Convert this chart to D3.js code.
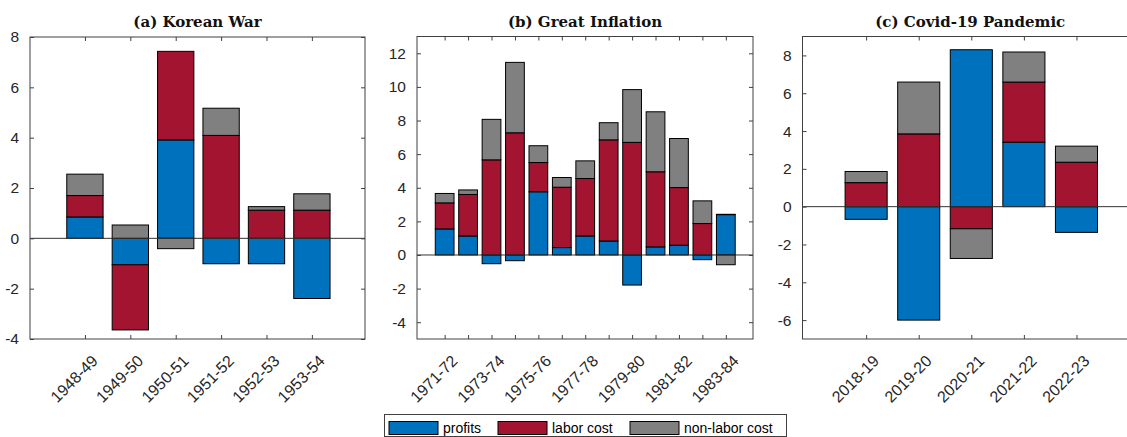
<!DOCTYPE html>
<html>
<head>
<meta charset="utf-8">
<script src="https://cdn.jsdelivr.net/npm/d3@7"></script>
<style>
  html, body { margin: 0; padding: 0; background: #fff; }
  svg { display: block; }
</style>
</head>
<body>
<svg id="chart" width="1127" height="437"></svg>
<script>
// ---------- data ----------
const seriesKeys = ["profits", "labor cost", "non-labor cost"];
const seriesColors = ["#0072BD", "#A2142F", "#808080"];

const categoriesA = ["1948-49", "1949-50", "1950-51", "1951-52", "1952-53", "1953-54"];
const profitsA   = [0.85, -1.05, 3.91, -1.01, -1.01, -2.39];
const laborA     = [0.85, -2.59, 3.52, 4.09, 1.12, 1.12];
const nonlaborA  = [0.85, 0.53, -0.41, 1.08, 0.14, 0.65];
const yTicksA    = [-4, -2, 0, 2, 4, 6, 8];

const categoriesB = ["1971-72", "1972-73", "1973-74", "1974-75", "1975-76", "1976-77", "1977-78",
                     "1978-79", "1979-80", "1980-81", "1981-82", "1982-83", "1983-84"];
const profitsB   = [1.55, 1.13, -0.52, -0.34, 3.76, 0.44, 1.13, 0.83, -1.79, 0.48, 0.58, -0.28, 2.40];
const laborB     = [1.55, 2.47, 5.66, 7.27, 1.74, 3.59, 3.42, 6.02, 6.70, 4.47, 3.43, 1.87, 0.02];
const nonlaborB  = [0.56, 0.27, 2.41, 4.19, 1.00, 0.58, 1.05, 1.02, 3.14, 3.57, 2.92, 1.35, -0.58];
const yTicksB    = [-4, -2, 0, 2, 4, 6, 8, 10, 12];
const xLabelsB   = ["1971-72", "1973-74", "1975-76", "1977-78", "1979-80", "1981-82", "1983-84"];

const categoriesC = ["2018-19", "2019-20", "2020-21", "2021-22", "2022-23"];
const profitsC   = [-0.67, -6.00, 8.30, 3.41, -1.36];
const laborC     = [1.27, 3.85, -1.17, 3.18, 2.35];
const nonlaborC  = [0.59, 2.74, -1.57, 1.59, 0.85];
const yTicksC    = [-6, -4, -2, 0, 2, 4, 6, 8];

const titles = ["(a) Korean War", "(b) Great Inflation", "(c) Covid-19 Pandemic"];

// ---------- layout ----------
const panels = [
  { title: titles[0], cats: categoriesA, vals: [profitsA, laborA, nonlaborA], yTicks: yTicksA, xLabels: categoriesA,
    left: 30, right: 365, top: 37, bottom: 339, xDom: [-0.21, categoriesA.length + 1.17], yDom: [-4, 8] },
  { title: titles[1], cats: categoriesB, vals: [profitsB, laborB, nonlaborB], yTicks: yTicksB, xLabels: xLabelsB,
    left: 417, right: 753, top: 36.5, bottom: 339, xDom: [-0.18, categoriesB.length + 1.16], yDom: [-5, 13] },
  { title: titles[2], cats: categoriesC, vals: [profitsC, laborC, nonlaborC], yTicks: yTicksC, xLabels: categoriesC,
    left: 802.5, right: 1138, top: 36.5, bottom: 339, xDom: [-0.21, categoriesC.length + 1.17], yDom: [-7, 9] }
];

const svg = d3.select("#chart");
const axisColor = "#404040";
const textColor = "#262626";
const tickFont = "Liberation Sans, Arial, Helvetica, sans-serif";

panels.forEach(p => {
  const x = d3.scaleLinear().domain(p.xDom).range([p.left, p.right]);
  const y = d3.scaleLinear().domain(p.yDom).range([p.bottom, p.top]);
  const g = svg.append("g");

  const table = p.cats.map((c, i) => {
    const row = { cat: c, pos: i + 1 };
    seriesKeys.forEach((k, j) => row[k] = p.vals[j][i]);
    return row;
  });
  const stacked = d3.stack().keys(seriesKeys).offset(d3.stackOffsetDiverging)(table);
  const barW = 0.8;

  // bars
  stacked.forEach((layer, j) => {
    g.append("g").selectAll("rect").data(layer).join("rect")
      .attr("x", d => x(d.data.pos - barW / 2))
      .attr("width", d => x(d.data.pos + barW / 2) - x(d.data.pos - barW / 2))
      .attr("y", d => y(Math.max(d[0], d[1])))
      .attr("height", d => Math.abs(y(d[0]) - y(d[1])))
      .attr("fill", seriesColors[j])
      .attr("stroke", "#000")
      .attr("stroke-width", 1);
  });

  // zero line
  g.append("line")
    .attr("x1", p.left).attr("x2", p.right)
    .attr("y1", y(0)).attr("y2", y(0))
    .attr("stroke", "#333").attr("stroke-width", 1);

  // box
  g.append("rect")
    .attr("x", p.left).attr("y", p.top)
    .attr("width", p.right - p.left).attr("height", p.bottom - p.top)
    .attr("fill", "none").attr("stroke", axisColor).attr("stroke-width", 1);

  // axes with inward ticks
  const tl = 4;
  const axL = d3.axisLeft(y).tickValues(p.yTicks).tickSize(-tl).tickPadding(7 + tl).tickFormat(d3.format("d"));
  const axR = d3.axisRight(y).tickValues(p.yTicks).tickSize(-tl).tickFormat("");
  const positions = p.cats.map((c, i) => i + 1);
  const axB = d3.axisBottom(x).tickValues(positions).tickSize(-tl).tickFormat("");
  const axT = d3.axisTop(x).tickValues(positions).tickSize(-tl).tickFormat("");

  const gl = g.append("g").attr("transform", `translate(${p.left},0)`).call(axL);
  g.append("g").attr("transform", `translate(${p.right},0)`).call(axR);
  g.append("g").attr("transform", `translate(0,${p.bottom})`).call(axB);
  g.append("g").attr("transform", `translate(0,${p.top})`).call(axT);
  g.selectAll(".domain").remove();
  g.selectAll(".tick line").attr("stroke", axisColor);
  gl.selectAll("text")
    .attr("fill", textColor)
    .style("font-family", tickFont)
    .style("font-size", "15.5px")
    .text(d => d < 0 ? "-" + Math.abs(d) : d);

  // rotated category labels
  g.append("g").selectAll("text")
    .data(p.xLabels)
    .join("text")
    .attr("transform", d => `translate(${x(p.cats.indexOf(d) + 1) + 10},${p.bottom + 19}) rotate(-45)`)
    .attr("text-anchor", "end")
    .attr("dy", "0.35em")
    .attr("fill", textColor)
    .style("font-family", tickFont)
    .style("font-size", "16px")
    .text(d => d);

  // title
  svg.append("text")
    .attr("x", (p.left + p.right) / 2)
    .attr("y", 27)
    .attr("text-anchor", "middle")
    .attr("fill", "#111")
    .style("font-family", "DejaVu Serif, serif")
    .style("font-weight", "bold")
    .style("font-size", "15px")
    .text(p.title);
});

// ---------- legend ----------
const leg = svg.append("g");
leg.append("rect")
  .attr("x", 384.5).attr("y", 414.5).attr("width", 402).attr("height", 22)
  .attr("fill", "#fff").attr("stroke", axisColor).attr("stroke-width", 1);
const legX = [389, 498, 630];
seriesKeys.forEach((k, i) => {
  leg.append("rect")
    .attr("x", legX[i]).attr("y", 421.5).attr("width", 49).attr("height", 13)
    .attr("fill", seriesColors[i]).attr("stroke", "#000").attr("stroke-width", 1);
  leg.append("text")
    .attr("x", legX[i] + 54).attr("y", 433)
    .attr("fill", "#000")
    .style("font-family", tickFont)
    .style("font-size", "14px")
    .text(k);
});
</script>
</body>
</html>
